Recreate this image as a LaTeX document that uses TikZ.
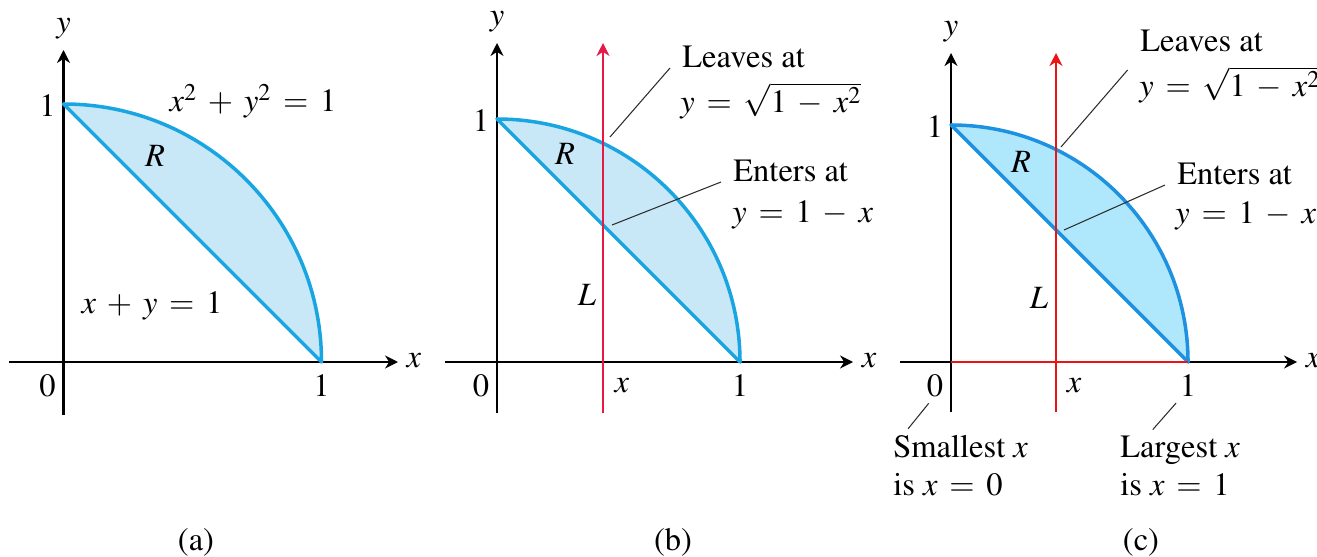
\documentclass[tikz,border=0pt]{standalone}
\usepackage[T1]{fontenc}
\usepackage{mathptmx}
\usetikzlibrary{positioning,arrows.meta,calc}
\definecolor{regionblue}{RGB}{25,165,225}
\definecolor{regionfill}{RGB}{200,232,248}
\definecolor{regionblueC}{RGB}{30,145,225}
\definecolor{regionfillC}{RGB}{175,232,252}
\definecolor{slicered}{RGB}{230,25,70}
\definecolor{sliceredC}{RGB}{235,20,20}
\definecolor{leadergray}{RGB}{45,45,45}

\begin{document}
\medmuskip=6mu
\thickmuskip=6.5mu
\begin{tikzpicture}[x=0.02cm, y=-0.02cm,
    every node/.style={font=\fontsize{18.5}{22}\selectfont},
    axis/.style={line width=1.2pt, -{Stealth[length=2.6mm, width=2.6mm]}},
    rim/.style={line width=2pt, line join=round},
    slice/.style={line width=1.4pt},
    leader/.style={leadergray, line width=0.6pt},
    note/.style={anchor=base west, inner xsep=0.24cm}]
    \useasboundingbox (0,0) rectangle (1317,557);
    \foreach \p/\ox/\rad/\xl/\xr/\yt/\yb/\cx/\rc/\fc in {a/63.5/258/9/398/50/415/196/regionblue/regionfill, b/497/243/445/853/43/413/673/regionblue/regionfill, c/951/237/900/1297/53/412/1141/regionblueC/regionfillC} {
      \draw[axis] (\xl,362) -- (\xr,362);
      \draw[axis] (\ox,\yb) -- (\ox,\yt);
      \filldraw[rim, draw=\rc, fill=\fc] (\ox,362-\rad) arc[start angle=-90, end angle=0, radius=\rad] -- cycle;
      \node (y\p) at (\ox,\yt-21) {$y$};
      \node (x\p) at (\xr+16,361) {$x$};
      \node (zero\p) at (\ox-16,386) {$0$};
      \node (one\p) at (\ox+\rad,386) {$1$};
      \node (top\p) at (\ox-16,362-\rad+2) {$1$};
      \node (cap\p) at (\cx,542) {(\p)};
    }

    \node[anchor=base] (eqcircle) at (253,112) {$x^2+y^2=1$};
    \node[anchor=base] (regiona) at (155,167) {$R$};
    \node[anchor=base] (eqline) at (152,313) {$x+y=1$};

    \draw[slice, slicered, -{Stealth[length=2.6mm, width=2.6mm]}] (603,413) -- (603,43);
    \node[anchor=base] (regionb) at (565,165) {$R$};
    \node[anchor=base] (lineb) at (587,305) {$L$};
    \node (sliceb) at (622,386) {$x$};
    \node[note] (leaveb) at (670,68) {Leaves at};
    \node[note] (leaveeqb) at (668,113) {$y=\sqrt{1-x^2}$};
    \node[note] (enterb) at (721,182) {Enters at};
    \node[note] (entereqb) at (720,222) {$y=1-x$};
    \coordinate (hitb) at (610,137);
    \coordinate (meetb) at (612,225);
    \draw[leader] (hitb) -- (leaveb.base west);
    \draw[leader] (meetb) -- (enterb.base west);

    \draw[slice, sliceredC] (951,362) -- (1188,362);
    \draw[slice, sliceredC, -{Stealth[length=2.6mm, width=2.6mm]}] (1056,412) -- (1056,53);
    \node[anchor=base] (regionc) at (1021,173) {$R$};
    \node[anchor=base] (linec) at (1039,308) {$L$};
    \node (slicec) at (1074,386) {$x$};
    \node[note] (leavec) at (1128,52) {Leaves at};
    \node[note] (leaveeqc) at (1127,97) {$y=\sqrt{1-x^2}$};
    \node[note] (enterc) at (1165,185) {Enters at};
    \node[note] (entereqc) at (1163,223) {$y=1-x$};
    \node[note] (smallc) at (881,457) {Smallest $x$};
    \node[note] (smalleqc) at (881,495) {is $x=0$};
    \node[note] (largec) at (1108,457) {Largest $x$};
    \node[note] (largeeqc) at (1108,495) {is $x=1$};
    \coordinate (hitc) at (1061,147);
    \coordinate (meetc) at (1064,230);
    \draw[leader] (hitc) -- ($(leavec.base west)!0.4!(leaveeqc.base west)$);
    \draw[leader] (meetc) -- (enterc.base west);
    \draw[leader] (zeroc.250) -- ($(smallc.north west)!0.17!(smallc.north east)$);
    \draw[leader] (onec.235) -- ($(largec.north west)!0.31!(largec.north east)$);
  \end{tikzpicture}
\end{document}
